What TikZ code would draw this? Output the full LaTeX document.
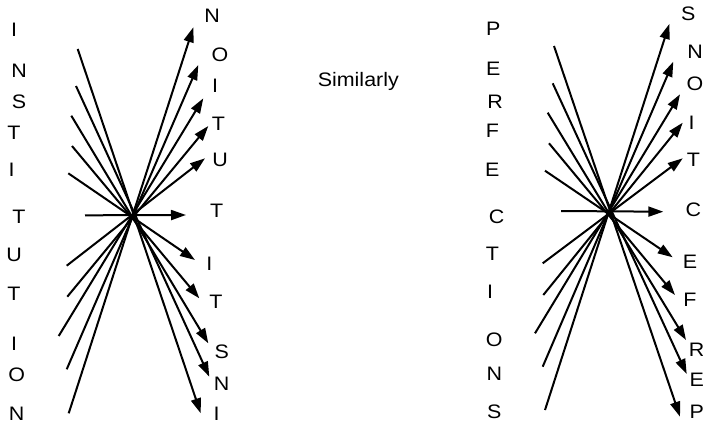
\documentclass[tikz,border=0pt]{standalone}
\usepackage{fontspec}
\setmainfont[FakeStretch=1.1]{Liberation Sans}
\usetikzlibrary{arrows.meta}
\begin{document}
\begin{tikzpicture}[x=1pt,y=-1pt,
  letter/.style={inner sep=0pt,font=\fontsize{19.5}{19.5}\selectfont},
  ray/.style={line width=2pt,-{Triangle[length=15pt,width=10pt]}}]
\useasboundingbox (0,0) rectangle (703,423);
% ---------- left diagram ----------
\foreach \n/\x/\y/\t in {l1/14/30/I,l2/19/70.7/N,l3/19/101.7/S,l4/14/132.7/T,l5/11.7/170/I,l6/19/216.7/T,l7/14/255/U,l8/14/293.3/T,l9/14/343.3/I,l10/16.7/375/O,l11/16.7/413.3/N}
  \node[letter] (\n) at (\x,\y) {\t};
\foreach \n/\x/\y/\t in {r1/212/16/N,r2/220/55/O,r3/215/86/I,r4/218.3/124/T,r5/220/160/U,r6/216.7/210.7/T,r7/209.3/263.3/I,r8/216/301.7/T,r9/221.7/351.7/S,r10/221.7/383.3/N,r11/216.7/413.3/I}
  \node[letter] (\n) at (\x,\y) {\t};
\foreach \n/\x/\y in {s1/77.7/49,s2/76/86,s3/71.3/115.7,s4/72/146,s5/68.3/173.3,s6/85/215.3,s7/66.7/265.7,s8/67.3/296.7,s9/58.7/336,s10/66.7/369.3,s11/68.7/413.3}
  \coordinate (\n) at (\x,\y);
\foreach \n/\x/\y in {t1/193.3/27.3,t2/198.3/65,t3/203.3/98.3,t4/208.3/126,t5/205/158.3,t6/186/215,t7/195/260,t8/199.3/298.3,t9/208.3/343.3,t10/209.3/376.7,t11/200.7/413.3}
  \coordinate (\n) at (\x,\y);
\foreach \a/\b in {1/11,2/10,3/9,4/8,5/7,6/6,7/5,8/4,9/3,10/2,11/1}
  \draw[ray] (s\a) -- (t\b);
% ---------- middle text ----------
\node[letter] (sim) at (358.3,81.7) {Similarly};
% ---------- right diagram ----------
\foreach \n/\x/\y/\t in {L1/493.3/28.3/P,L2/493.3/68.3/E,L3/495/101.7/R,L4/492.3/131/F,L5/492.3/170/E,L6/496.7/216.7/C,L7/492.3/253.3/T,L8/490/291.7/I,L9/494.3/340/O,L10/494.3/373.3/N,L11/494.3/411.7/S}
  \node[letter] (\n) at (\x,\y) {\t};
\foreach \n/\x/\y/\t in {R1/688.3/14/S,R2/695/51.7/N,R3/695/83.3/O,R4/691.7/122.7/I,R5/693.3/159.3/T,R6/693.3/209.3/C,R7/690/261.7/E,R8/690/300/F,R9/696.7/350/R,R10/696.7/380/E,R11/696.7/411.7/P}
  \node[letter] (\n) at (\x,\y) {\t};
\foreach \n/\x/\y in {S1/554/46,S2/552.7/83.3,S3/547.7/112.7,S4/549/143.3,S5/545/170.7,S6/561/211,S7/542.7/263.3,S8/543.3/295,S9/535/333.3,S10/542.7/366.7,S11/545/410}
  \coordinate (\n) at (\x,\y);
\foreach \n/\x/\y in {T1/669.3/24,T2/673.3/61.7,T3/680/94.3,T4/682.7/122.7,T5/682.7/158.3,T6/663.3/211.7,T7/672.7/257.3,T8/675/295,T9/686/340,T10/686.7/374,T11/680/416.7}
  \coordinate (\n) at (\x,\y);
\foreach \a/\b in {1/11,2/10,3/9,4/8,5/7,6/6,7/5,8/4,9/3,10/2,11/1}
  \draw[ray] (S\a) -- (T\b);
\end{tikzpicture}
\end{document}
